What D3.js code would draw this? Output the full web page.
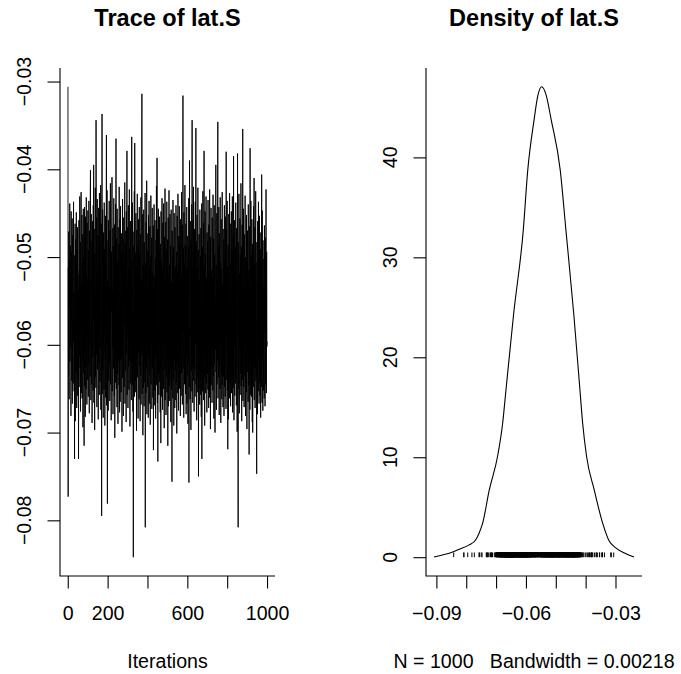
<!DOCTYPE html>
<html>
<head>
<meta charset="utf-8">
<script src="https://cdn.jsdelivr.net/npm/d3@7"></script>
<style>
  html, body { margin: 0; padding: 0; background: #fff; }
  svg { display: block; }
  text { font-family: "Liberation Sans", Arial, Helvetica, sans-serif; fill: #000; }
</style>
</head>
<body>
<svg id="chart" width="681" height="674"></svg>
<script>
// ---------------- DATA ----------------
const paramName = "lat.S";
const nIter = 1000;
const bandwidthLabel = "0.00218";

// Trace values (iterations 1..1000), read/estimated from the trace plot
const traceValues = [
-0.0306,-0.0773,-0.0512,-0.0634,-0.0471,-0.0588,-0.0662,-0.0503,-0.0557,-0.0439,-0.0619,-0.0546,-0.0487,-0.0603,-0.0529,-0.0681,-0.0448,-0.0575,-0.0494,-0.0641,
-0.0583,-0.0456,-0.0667,-0.0528,-0.0475,-0.0609,-0.0644,-0.0512,-0.0437,-0.0596,-0.0541,-0.0653,-0.0569,-0.0730,-0.0498,-0.0621,-0.0462,-0.0687,-0.0553,-0.0480,
-0.0631,-0.0507,-0.0449,-0.0586,-0.0672,-0.0493,-0.0549,-0.0658,-0.0466,-0.0604,-0.0521,-0.0639,-0.0537,-0.0730,-0.0590,-0.0458,-0.0648,-0.0515,-0.0612,-0.0431,
-0.0542,-0.0626,-0.0483,-0.0676,-0.0597,-0.0469,-0.0426,-0.0655,-0.0531,-0.0579,-0.0452,-0.0661,-0.0506,-0.0618,-0.0474,-0.0694,-0.0538,-0.0445,-0.0632,-0.0500,
-0.0595,-0.0715,-0.0489,-0.0443,-0.0647,-0.0563,-0.0478,-0.0682,-0.0454,-0.0607,-0.0518,-0.0650,-0.0432,-0.0624,-0.0535,-0.0668,-0.0461,-0.0591,-0.0524,-0.0640,
-0.0447,-0.0573,-0.0659,-0.0492,-0.0622,-0.0436,-0.0548,-0.0678,-0.0470,-0.0601,-0.0526,-0.0636,-0.0429,-0.0401,-0.0585,-0.0663,-0.0501,-0.0451,-0.0645,-0.0559,
-0.0482,-0.0689,-0.0596,-0.0459,-0.0614,-0.0520,-0.0652,-0.0441,-0.0571,-0.0395,-0.0666,-0.0533,-0.0468,-0.0608,-0.0697,-0.0496,-0.0580,-0.0421,-0.0637,-0.0544,
-0.0649,-0.0344,-0.0504,-0.0611,-0.0455,-0.0671,-0.0552,-0.0434,-0.0628,-0.0517,-0.0593,-0.0476,-0.0685,-0.0539,-0.0444,-0.0620,-0.0490,-0.0657,-0.0427,-0.0581,
-0.0526,-0.0642,-0.0485,-0.0603,-0.0418,-0.0674,-0.0560,-0.0462,-0.0615,-0.0795,-0.0497,-0.0337,-0.0656,-0.0568,-0.0446,-0.0629,-0.0510,-0.0683,-0.0472,-0.0598,
-0.0514,-0.0651,-0.0438,-0.0587,-0.0491,-0.0692,-0.0543,-0.0616,-0.0453,-0.0660,-0.0509,-0.0599,-0.0477,-0.0361,-0.0669,-0.0556,-0.0424,-0.0634,-0.0781,-0.0527,
-0.0606,-0.0481,-0.0675,-0.0458,-0.0577,-0.0641,-0.0502,-0.0436,-0.0623,-0.0534,-0.0664,-0.0470,-0.0589,-0.0416,-0.0645,-0.0519,-0.0611,-0.0686,-0.0494,-0.0562,
-0.0452,-0.0409,-0.0653,-0.0538,-0.0602,-0.0467,-0.0679,-0.0550,-0.0488,-0.0627,-0.0433,-0.0608,-0.0521,-0.0658,-0.0463,-0.0706,-0.0574,-0.0499,-0.0643,-0.0440,
-0.0613,-0.0365,-0.0516,-0.0650,-0.0479,-0.0594,-0.0671,-0.0445,-0.0565,-0.0633,-0.0505,-0.0690,-0.0466,-0.0582,-0.0619,-0.0486,-0.0646,-0.0420,-0.0530,-0.0677,
-0.0590,-0.0457,-0.0665,-0.0523,-0.0442,-0.0617,-0.0547,-0.0654,-0.0473,-0.0600,-0.0511,-0.0699,-0.0493,-0.0613,-0.0434,-0.0638,-0.0545,-0.0480,-0.0681,-0.0569,
-0.0455,-0.0604,-0.0648,-0.0508,-0.0578,-0.0415,-0.0667,-0.0484,-0.0597,-0.0630,-0.0470,-0.0556,-0.0688,-0.0448,-0.0610,-0.0496,-0.0379,-0.0657,-0.0532,-0.0592,
-0.0466,-0.0672,-0.0560,-0.0441,-0.0625,-0.0513,-0.0651,-0.0584,-0.0423,-0.0618,-0.0490,-0.0693,-0.0527,-0.0603,-0.0459,-0.0644,-0.0504,-0.0581,-0.0663,-0.0476,
-0.0363,-0.0622,-0.0535,-0.0646,-0.0438,-0.0590,-0.0676,-0.0487,-0.0842,-0.0566,-0.0628,-0.0471,-0.0607,-0.0425,-0.0659,-0.0370,-0.0520,-0.0641,-0.0495,-0.0598,
-0.0654,-0.0450,-0.0585,-0.0512,-0.0698,-0.0469,-0.0616,-0.0539,-0.0428,-0.0637,-0.0596,-0.0488,-0.0684,-0.0551,-0.0457,-0.0609,-0.0518,-0.0662,-0.0443,-0.0624,
-0.0496,-0.0601,-0.0687,-0.0474,-0.0571,-0.0635,-0.0432,-0.0668,-0.0525,-0.0612,-0.0463,-0.0314,-0.0656,-0.0540,-0.0606,-0.0451,-0.0703,-0.0510,-0.0589,-0.0649,
-0.0446,-0.0567,-0.0670,-0.0483,-0.0620,-0.0529,-0.0643,-0.0427,-0.0808,-0.0597,-0.0507,-0.0655,-0.0460,-0.0574,-0.0626,-0.0413,-0.0679,-0.0492,-0.0604,-0.0536,
-0.0648,-0.0473,-0.0588,-0.0683,-0.0452,-0.0615,-0.0543,-0.0436,-0.0667,-0.0511,-0.0634,-0.0465,-0.0580,-0.0691,-0.0499,-0.0623,-0.0430,-0.0645,-0.0527,-0.0601,
-0.0478,-0.0673,-0.0559,-0.0444,-0.0627,-0.0518,-0.0660,-0.0593,-0.0464,-0.0720,-0.0537,-0.0621,-0.0440,-0.0669,-0.0522,-0.0585,-0.0652,-0.0458,-0.0610,-0.0501,
-0.0684,-0.0572,-0.0481,-0.0614,-0.0419,-0.0646,-0.0516,-0.0387,-0.0603,-0.0666,-0.0468,-0.0733,-0.0579,-0.0633,-0.0445,-0.0541,-0.0657,-0.0493,-0.0598,-0.0454,
-0.0642,-0.0526,-0.0611,-0.0677,-0.0485,-0.0568,-0.0712,-0.0448,-0.0625,-0.0503,-0.0659,-0.0549,-0.0433,-0.0617,-0.0514,-0.0674,-0.0461,-0.0591,-0.0535,-0.0650,
-0.0439,-0.0599,-0.0506,-0.0695,-0.0557,-0.0477,-0.0628,-0.0422,-0.0663,-0.0530,-0.0606,-0.0460,-0.0680,-0.0575,-0.0491,-0.0637,-0.0437,-0.0654,-0.0544,-0.0619,
-0.0480,-0.0715,-0.0583,-0.0455,-0.0670,-0.0521,-0.0613,-0.0424,-0.0647,-0.0509,-0.0597,-0.0664,-0.0451,-0.0566,-0.0630,-0.0487,-0.0688,-0.0542,-0.0446,-0.0651,
-0.0528,-0.0607,-0.0756,-0.0470,-0.0624,-0.0498,-0.0661,-0.0435,-0.0584,-0.0640,-0.0489,-0.0692,-0.0552,-0.0450,-0.0616,-0.0515,-0.0672,-0.0466,-0.0595,-0.0629,
-0.0511,-0.0663,-0.0441,-0.0587,-0.0643,-0.0494,-0.0701,-0.0548,-0.0453,-0.0622,-0.0517,-0.0655,-0.0428,-0.0600,-0.0508,-0.0675,-0.0476,-0.0573,-0.0638,-0.0442,
-0.0650,-0.0532,-0.0596,-0.0484,-0.0681,-0.0457,-0.0615,-0.0545,-0.0658,-0.0501,-0.0426,-0.0632,-0.0519,-0.0604,-0.0668,-0.0463,-0.0586,-0.0316,-0.0627,-0.0490,
-0.0538,-0.0683,-0.0449,-0.0618,-0.0507,-0.0645,-0.0592,-0.0418,-0.0639,-0.0486,-0.0656,-0.0576,-0.0462,-0.0679,-0.0523,-0.0611,-0.0443,-0.0667,-0.0513,-0.0594,
-0.0635,-0.0476,-0.0690,-0.0547,-0.0489,-0.0621,-0.0433,-0.0757,-0.0580,-0.0648,-0.0390,-0.0520,-0.0608,-0.0662,-0.0459,-0.0589,-0.0504,-0.0697,-0.0481,-0.0630,
-0.0561,-0.0440,-0.0653,-0.0344,-0.0603,-0.0512,-0.0666,-0.0458,-0.0624,-0.0534,-0.0420,-0.0641,-0.0497,-0.0676,-0.0581,-0.0468,-0.0628,-0.0526,-0.0659,-0.0437,
-0.0599,-0.0505,-0.0353,-0.0645,-0.0482,-0.0617,-0.0686,-0.0540,-0.0452,-0.0654,-0.0513,-0.0606,-0.0421,-0.0637,-0.0492,-0.0750,-0.0571,-0.0649,-0.0474,-0.0612,
-0.0527,-0.0668,-0.0446,-0.0593,-0.0640,-0.0499,-0.0657,-0.0467,-0.0582,-0.0682,-0.0533,-0.0439,-0.0730,-0.0550,-0.0631,-0.0488,-0.0653,-0.0425,-0.0605,-0.0518,
-0.0663,-0.0461,-0.0590,-0.0379,-0.0636,-0.0510,-0.0692,-0.0564,-0.0448,-0.0619,-0.0496,-0.0655,-0.0541,-0.0431,-0.0644,-0.0523,-0.0608,-0.0677,-0.0472,-0.0583,
-0.0633,-0.0482,-0.0651,-0.0435,-0.0597,-0.0529,-0.0672,-0.0463,-0.0614,-0.0518,-0.0660,-0.0423,-0.0569,-0.0639,-0.0501,-0.0696,-0.0477,-0.0602,-0.0444,-0.0646,
-0.0515,-0.0627,-0.0574,-0.0666,-0.0455,-0.0601,-0.0524,-0.0652,-0.0429,-0.0586,-0.0635,-0.0479,-0.0684,-0.0546,-0.0441,-0.0622,-0.0497,-0.0656,-0.0700,-0.0553,
-0.0606,-0.0466,-0.0395,-0.0631,-0.0509,-0.0674,-0.0567,-0.0450,-0.0645,-0.0528,-0.0618,-0.0419,-0.0346,-0.0661,-0.0540,-0.0487,-0.0637,-0.0443,-0.0594,-0.0680,
-0.0473,-0.0623,-0.0521,-0.0650,-0.0432,-0.0598,-0.0506,-0.0689,-0.0558,-0.0457,-0.0634,-0.0514,-0.0662,-0.0579,-0.0426,-0.0646,-0.0531,-0.0611,-0.0671,-0.0468,
-0.0572,-0.0636,-0.0480,-0.0681,-0.0535,-0.0441,-0.0648,-0.0566,-0.0503,-0.0659,-0.0454,-0.0607,-0.0525,-0.0673,-0.0380,-0.0590,-0.0469,-0.0640,-0.0548,-0.0436,
-0.0652,-0.0511,-0.0719,-0.0617,-0.0486,-0.0685,-0.0563,-0.0451,-0.0628,-0.0532,-0.0661,-0.0427,-0.0599,-0.0508,-0.0642,-0.0556,-0.0670,-0.0462,-0.0610,-0.0520,
-0.0448,-0.0655,-0.0587,-0.0493,-0.0638,-0.0431,-0.0677,-0.0544,-0.0619,-0.0476,-0.0649,-0.0385,-0.0570,-0.0686,-0.0517,-0.0603,-0.0458,-0.0658,-0.0530,-0.0596,
-0.0489,-0.0644,-0.0438,-0.0626,-0.0551,-0.0669,-0.0467,-0.0592,-0.0522,-0.0699,-0.0613,-0.0382,-0.0536,-0.0639,-0.0808,-0.0483,-0.0650,-0.0574,-0.0428,-0.0621,
-0.0678,-0.0519,-0.0601,-0.0456,-0.0657,-0.0497,-0.0632,-0.0545,-0.0416,-0.0647,-0.0488,-0.0611,-0.0687,-0.0526,-0.0463,-0.0640,-0.0582,-0.0354,-0.0664,-0.0537,
-0.0620,-0.0445,-0.0648,-0.0539,-0.0671,-0.0474,-0.0597,-0.0512,-0.0636,-0.0430,-0.0584,-0.0681,-0.0500,-0.0627,-0.0543,-0.0654,-0.0452,-0.0593,-0.0696,-0.0505,
-0.0608,-0.0470,-0.0631,-0.0528,-0.0665,-0.0440,-0.0589,-0.0646,-0.0515,-0.0725,-0.0561,-0.0619,-0.0465,-0.0674,-0.0376,-0.0585,-0.0534,-0.0657,-0.0436,-0.0637,
-0.0498,-0.0659,-0.0562,-0.0457,-0.0612,-0.0688,-0.0485,-0.0700,-0.0596,-0.0516,-0.0648,-0.0442,-0.0581,-0.0625,-0.0410,-0.0663,-0.0508,-0.0609,-0.0466,-0.0672,
-0.0547,-0.0626,-0.0425,-0.0641,-0.0506,-0.0603,-0.0661,-0.0747,-0.0483,-0.0635,-0.0570,-0.0679,-0.0459,-0.0590,-0.0527,-0.0653,-0.0437,-0.0616,-0.0495,-0.0667,
-0.0575,-0.0453,-0.0643,-0.0519,-0.0658,-0.0491,-0.0606,-0.0683,-0.0472,-0.0622,-0.0511,-0.0648,-0.0406,-0.0554,-0.0666,-0.0447,-0.0612,-0.0529,-0.0675,-0.0481,
-0.0624,-0.0537,-0.0652,-0.0502,-0.0609,-0.0661,-0.0464,-0.0587,-0.0520,-0.0670,-0.0630,-0.0478,-0.0645,-0.0551,-0.0423,-0.0618,-0.0655,-0.0494,-0.0602,-0.0596
];

// Density curve (x = lat.S value, y = density)
const densityX = [-0.0908,-0.0890,-0.0857,-0.0823,-0.0790,-0.0768,-0.0757,-0.0745,-0.0723,-0.0695,-0.0678,-0.0667,-0.0641,-0.0609,-0.0594,-0.0573,-0.0560,-0.0547,-0.0533,-0.0515,-0.0485,-0.0466,-0.0440,-0.0419,-0.0410,-0.0397,-0.0371,-0.0343,-0.0323,-0.0298,-0.0265,-0.0238];
const densityY = [0.02,0.15,0.40,0.80,1.23,1.75,2.40,3.40,6.70,10.10,13.40,16.70,24.40,32.70,38.70,43.70,46.20,47.06,46.30,43.70,38.70,32.70,24.40,16.70,13.40,10.10,6.70,3.40,1.73,0.90,0.35,0.02];

// Ticks and tick labels
const traceXTicks = [0, 200, 400, 600, 800, 1000];
const traceXTickLabels = ["0", "200", "", "600", "", "1000"];
const traceYTicks = [-0.08, -0.07, -0.06, -0.05, -0.04, -0.03];
const traceYTickLabels = ["\u22120.08", "\u22120.07", "\u22120.06", "\u22120.05", "\u22120.04", "\u22120.03"];
const densXTicks = [-0.09, -0.08, -0.07, -0.06, -0.05, -0.04, -0.03];
const densXTickLabels = ["\u22120.09", "", "", "\u22120.06", "", "", "\u22120.03"];
const densYTicks = [0, 10, 20, 30, 40];
const densYTickLabels = ["0", "10", "20", "30", "40"];

const titles = ["Trace of " + paramName, "Density of " + paramName];
const traceXLabel = "Iterations";
const densXLabel = "N = " + nIter + "   Bandwidth = " + bandwidthLabel;

// ---------------- LAYOUT ----------------
const svg = d3.select("#chart");
const FONT = 19.6, TITLE_FONT = 23.5, TICK = 12.5;
const plotTop = 68, plotBottom = 576;
const panels = [{left: 60, right: 275}, {left: 426, right: 642}];

function pad(ext) { const r = ext[1] - ext[0]; return [ext[0] - 0.04 * r, ext[1] + 0.04 * r]; }

// ---------------- TRACE PANEL ----------------
const iters = d3.range(1, traceValues.length + 1);
const xT = d3.scaleLinear().domain(pad([1, traceValues.length])).range([panels[0].left, panels[0].right]);
const yT = d3.scaleLinear().domain(pad(d3.extent(traceValues))).range([plotBottom, plotTop]);

// ---------------- DENSITY PANEL ----------------
const xD = d3.scaleLinear().domain(pad(d3.extent(densityX))).range([panels[1].left, panels[1].right]);
const yD = d3.scaleLinear().domain(pad([0, d3.max(densityY)])).range([plotBottom, plotTop]);

function drawPanel(p, xs, ys, xTicks, xLabels, yTicks, yLabels, title, xlab) {
  const g = svg.append("g");
  // L-shaped box
  g.append("path")
    .attr("d", `M${p.left},${plotTop}V${plotBottom}H${p.right}`)
    .attr("fill", "none").attr("stroke", "#000").attr("stroke-width", 1.1);

  // x axis
  const ax = d3.axisBottom(xs).tickValues(xTicks).tickSize(TICK)
    .tickFormat((d, i) => xLabels[i]);
  const gx = g.append("g").attr("transform", `translate(0,${plotBottom})`).call(ax);
  gx.select(".domain").remove();
  gx.selectAll("line").attr("stroke", "#000").attr("stroke-width", 1.1);
  gx.selectAll("text").attr("font-size", FONT).attr("font-family", "Liberation Sans, Arial, sans-serif")
    .attr("fill", "#000").attr("y", 44).attr("dy", null);

  // y axis (ticks only; labels rotated)
  const ay = d3.axisLeft(ys).tickValues(yTicks).tickSize(TICK).tickFormat("");
  const gy = g.append("g").attr("transform", `translate(${p.left},0)`).call(ay);
  gy.select(".domain").remove();
  gy.selectAll("line").attr("stroke", "#000").attr("stroke-width", 1.1);
  g.selectAll(".ylab").data(yTicks).enter().append("text")
    .attr("class", "ylab")
    .attr("transform", d => `translate(${p.left - 28.7},${ys(d)}) rotate(-90)`)
    .attr("text-anchor", "middle")
    .attr("font-size", FONT)
    .text((d, i) => yLabels[i]);

  // title
  g.append("text")
    .attr("x", (p.left + p.right) / 2).attr("y", 26)
    .attr("text-anchor", "middle").attr("font-weight", "bold")
    .attr("font-size", TITLE_FONT)
    .text(title);

  // x label
  g.append("text")
    .attr("x", (p.left + p.right) / 2).attr("y", 668)
    .attr("text-anchor", "middle").attr("font-size", FONT)
    .style("white-space", "pre")
    .text(xlab);
  return g;
}

const g1 = drawPanel(panels[0], xT, yT, traceXTicks, traceXTickLabels, traceYTicks, traceYTickLabels, titles[0], traceXLabel);
g1.append("path")
  .datum(traceValues)
  .attr("fill", "none").attr("stroke", "#000").attr("stroke-width", 0.9)
  .attr("d", d3.line().x((d, i) => xT(iters[i])).y(d => yT(d)));

const g2 = drawPanel(panels[1], xD, yD, densXTicks, densXTickLabels, densYTicks, densYTickLabels, titles[1], densXLabel);
g2.append("path")
  .datum(densityX.map((x, i) => [x, densityY[i]]))
  .attr("fill", "none").attr("stroke", "#000").attr("stroke-width", 1.1)
  .attr("d", d3.line().curve(d3.curveMonotoneX).x(d => xD(d[0])).y(d => yD(d[1])));

// rug of observations (type "h" lines at max density / 100)
const rugTop = d3.max(densityY) / 100;
g2.append("g").selectAll("line").data(traceValues).enter().append("line")
  .attr("x1", d => xD(d)).attr("x2", d => xD(d))
  .attr("y1", yD(0)).attr("y2", yD(rugTop))
  .attr("stroke", "#000").attr("stroke-width", 1);
</script>
</body>
</html>
